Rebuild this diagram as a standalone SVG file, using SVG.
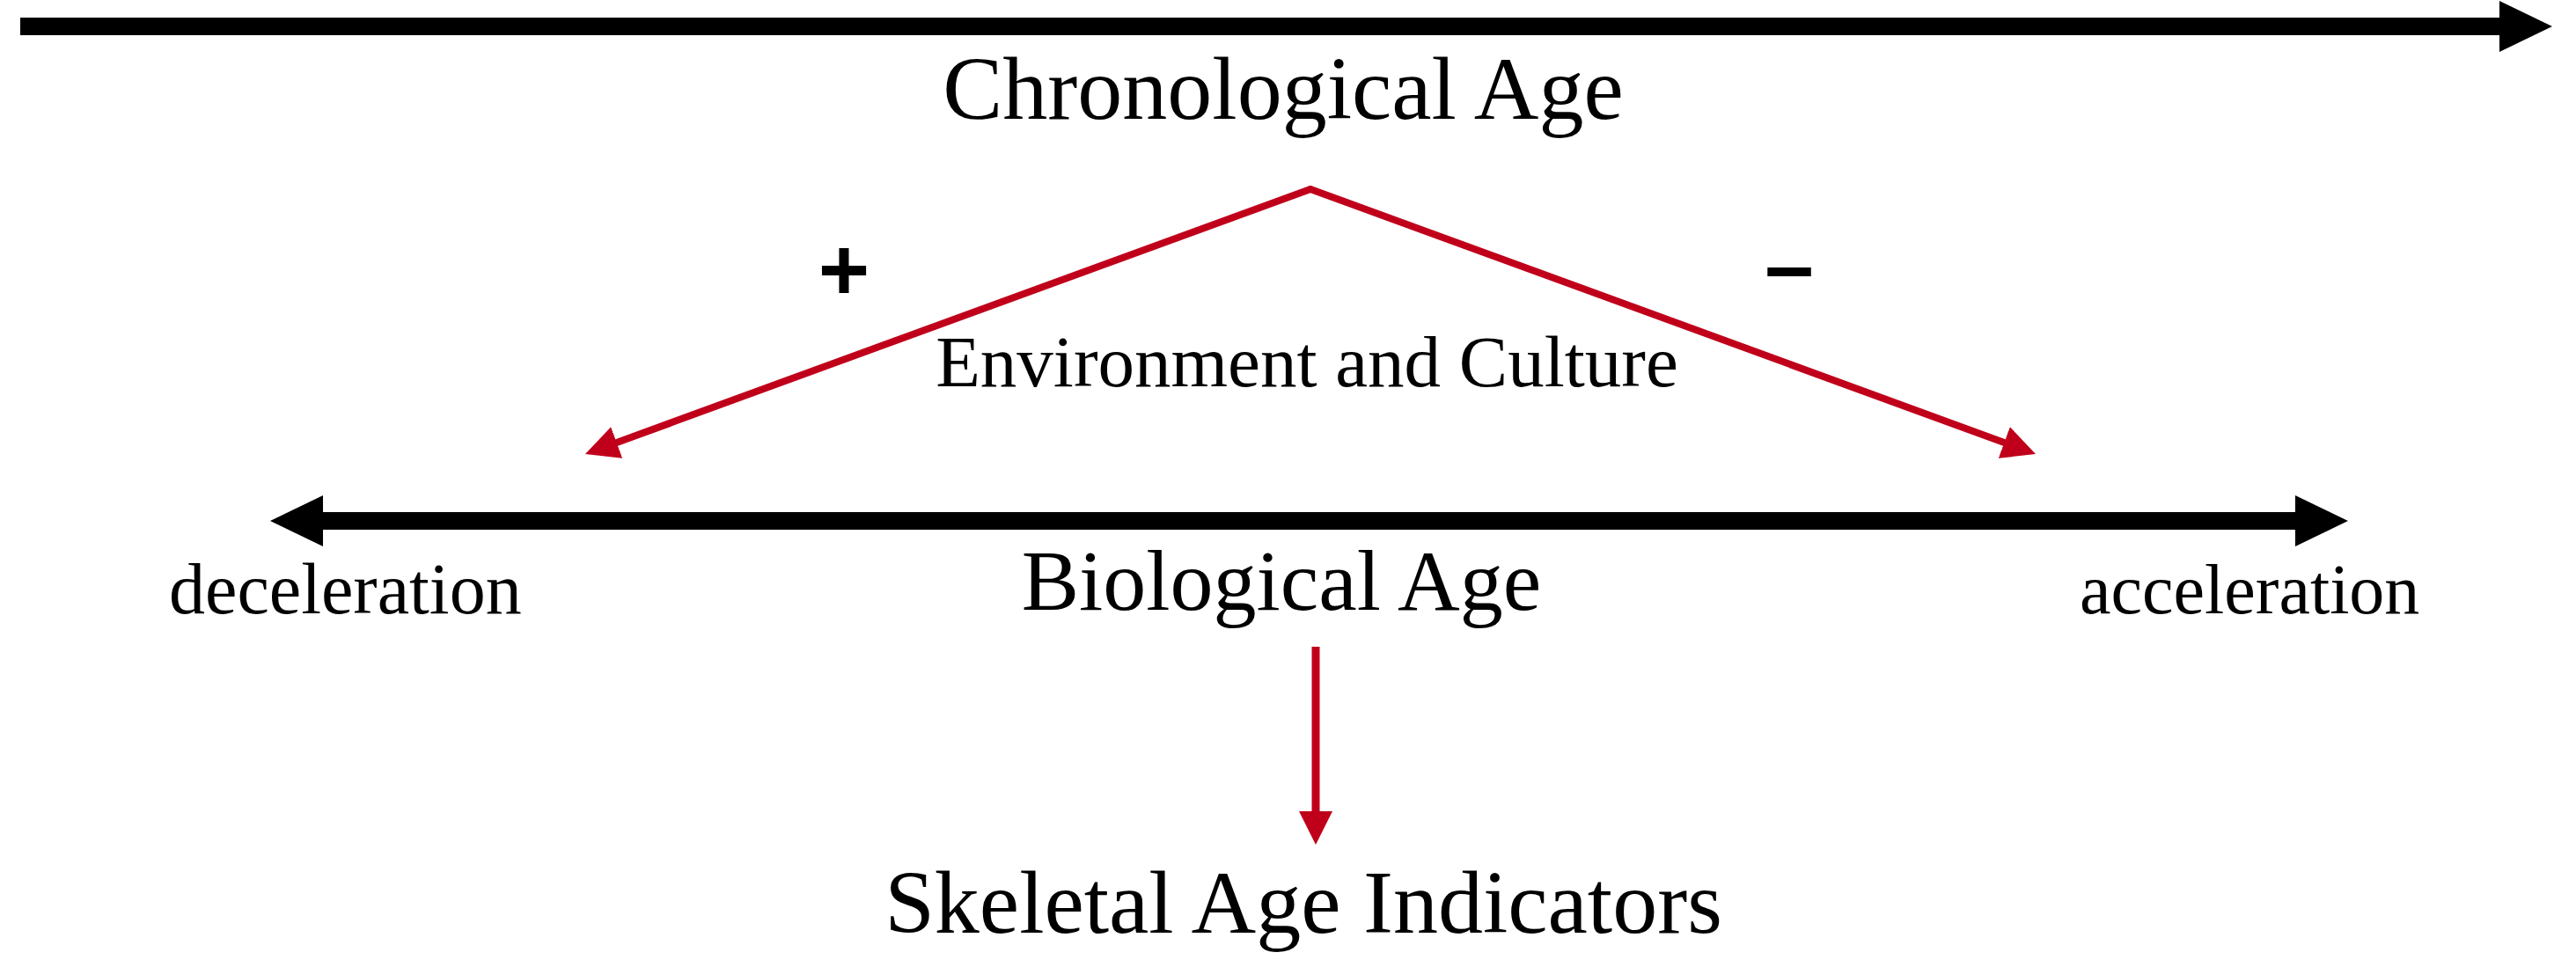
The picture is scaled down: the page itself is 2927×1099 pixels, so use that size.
<svg xmlns="http://www.w3.org/2000/svg" width="2927" height="1099" viewBox="0 0 2927 1099">
  <style>
    .lbl { font-family: "Liberation Serif", "Times New Roman", serif; fill: #000; }
    .sign { font-family: "Liberation Sans", Arial, sans-serif; font-weight: bold; fill: #000; }
    .black { stroke: #000; stroke-width: 20; fill: none; stroke-linecap: butt; }
    .red { stroke: #C0001A; stroke-width: 8; fill: none; stroke-linecap: round; }
  </style>
  <defs>
    <marker id="blackHead" markerUnits="userSpaceOnUse" viewBox="0 0 60 58" markerWidth="60" markerHeight="58" refX="0" refY="29" orient="auto-start-reverse">
      <path d="M0,0 L60,29 L0,58 Z" fill="#000"/>
    </marker>
    <marker id="redHead" markerUnits="userSpaceOnUse" viewBox="0 0 38 38" markerWidth="38" markerHeight="38" refX="0" refY="19" orient="auto">
      <path d="M0,0 L38,19 L0,38 Z" fill="#C0001A"/>
    </marker>
  </defs>
  <rect width="2927" height="1099" fill="#fff"/>

  <g id="connectors">
    <line id="chrono-axis" class="black" x1="23" y1="30" x2="2840" y2="30" marker-end="url(#blackHead)"/>
    <line id="bio-axis" class="black" x1="367" y1="592" x2="2608" y2="592" marker-start="url(#blackHead)" marker-end="url(#blackHead)"/>
    <line id="to-deceleration" class="red" x1="1489" y1="215" x2="700.7" y2="503" marker-end="url(#redHead)"/>
    <line id="to-acceleration" class="red" x1="1489" y1="215" x2="2277.3" y2="503" marker-end="url(#redHead)"/>
    <line id="to-skeletal" class="red" style="stroke-width:9;stroke-linecap:butt" x1="1495" y1="735" x2="1495" y2="922" marker-end="url(#redHead)"/>
  </g>

  <g id="chronological-age">
    <text class="lbl" x="1458" y="135" font-size="102" text-anchor="middle">Chronological Age</text>
  </g>
  <g id="plus-sign">
    <text class="sign" x="959" y="341" font-size="100" text-anchor="middle">+</text>
  </g>
  <g id="minus-sign">
    <text class="sign" x="2033" y="336" font-size="100" text-anchor="middle">–</text>
  </g>
  <g id="environment-culture">
    <text class="lbl" x="1485" y="439" font-size="83" text-anchor="middle">Environment and Culture</text>
  </g>
  <g id="deceleration">
    <text class="lbl" x="192" y="697" font-size="82">deceleration</text>
  </g>
  <g id="biological-age">
    <text class="lbl" x="1456" y="693" font-size="98" text-anchor="middle">Biological Age</text>
  </g>
  <g id="acceleration">
    <text class="lbl" x="2363" y="697" font-size="80">acceleration</text>
  </g>
  <g id="skeletal-age-indicators">
    <text class="lbl" x="1481" y="1060" font-size="102" text-anchor="middle">Skeletal Age Indicators</text>
  </g>
</svg>
